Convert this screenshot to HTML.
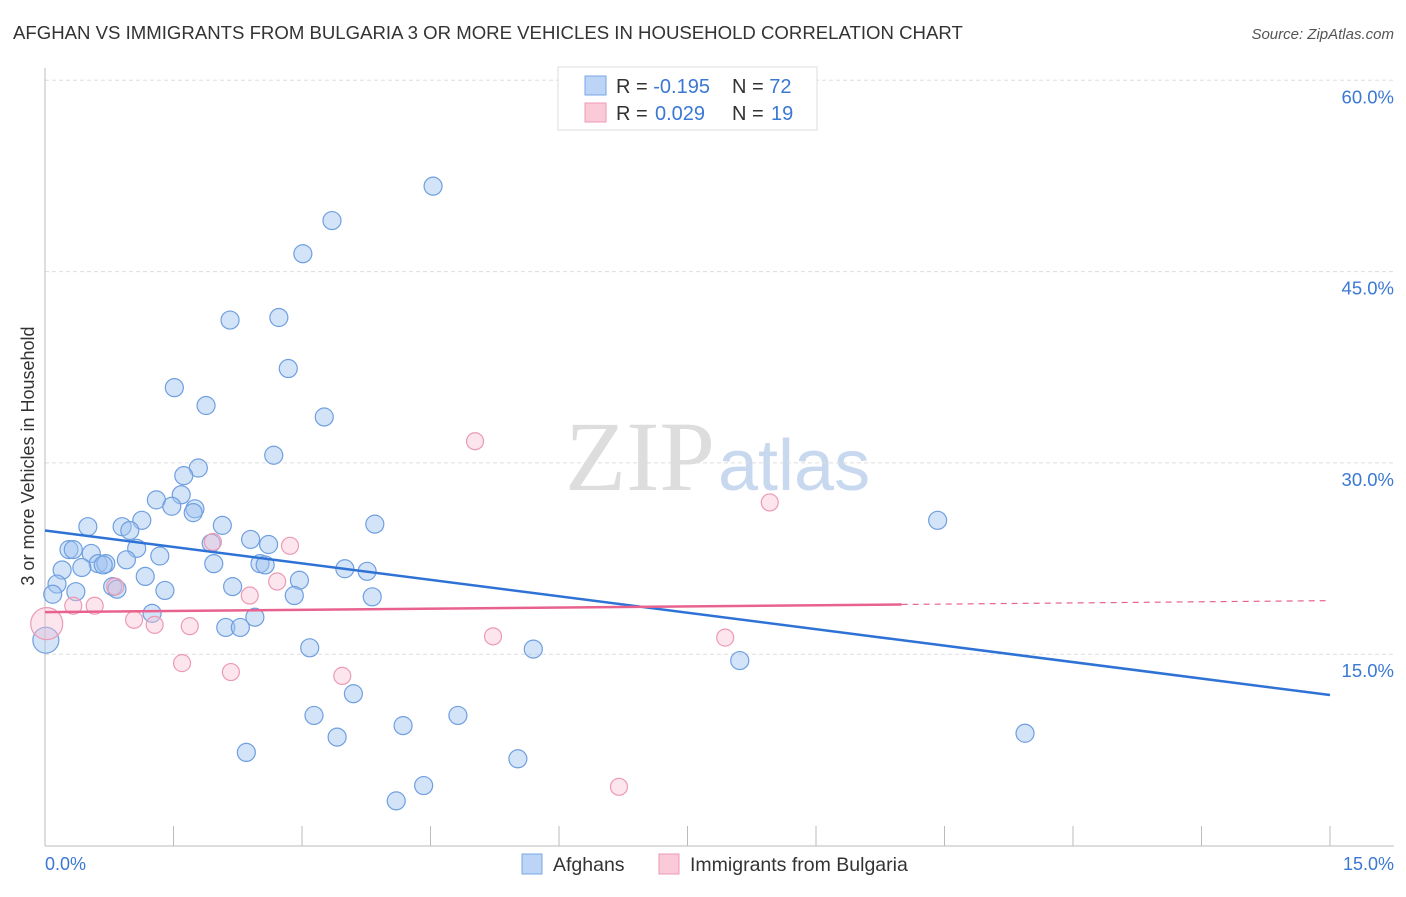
<!DOCTYPE html>
<html><head><meta charset="utf-8"><style>
body{margin:0;background:#fff;font-family:"Liberation Sans",sans-serif}
svg text{font-family:"Liberation Sans",sans-serif}
</style></head><body>
<svg id="c" width="1406" height="892" xmlns="http://www.w3.org/2000/svg">
<text x="13" y="39" font-size="18.6" fill="#333">AFGHAN VS IMMIGRANTS FROM BULGARIA 3 OR MORE VEHICLES IN HOUSEHOLD CORRELATION CHART</text>
<text x="1394" y="39" font-size="15" fill="#555" font-style="italic" text-anchor="end">Source: ZipAtlas.com</text>
<text x="715" y="490" font-size="100" style="font-family:'Liberation Serif',serif" fill="#ddd" text-anchor="end">ZIP</text>
<text x="718" y="490" font-size="72" fill="#c7d8ef">atlas</text>
<g id="grid"></g>
<line x1="45" y1="68" x2="45" y2="846" stroke="#bbb"/>
<line x1="45" y1="846" x2="1394" y2="846" stroke="#bbb"/>
<text transform="translate(34,456) rotate(-90)" font-size="18" fill="#333" text-anchor="middle">3 or more Vehicles in Household</text>
<text x="45" y="870" font-size="18" fill="#3a78d4">0.0%</text>
<text x="1394" y="870" font-size="18" fill="#3a78d4" text-anchor="end">15.0%</text>
<g id="pts"></g>
<g id="lines"></g>
<g>
<rect x="558" y="67" width="259" height="63" fill="#fff" stroke="#ddd"/>
<rect x="585" y="76" width="21" height="19" fill="#bcd4f5" stroke="#7aa6e6"/>
<rect x="585" y="103" width="21" height="19" fill="#fbcad8" stroke="#ee9ab4"/>
<text x="616" y="93" font-size="20" fill="#333">R = <tspan fill="#3a78d4">-0.195</tspan><tspan x="732">N = </tspan><tspan fill="#3a78d4">72</tspan></text>
<text x="616" y="120" font-size="20" fill="#333">R = <tspan x="655" fill="#3a78d4">0.029</tspan><tspan x="732">N = </tspan><tspan x="771" fill="#3a78d4">19</tspan></text>
</g>
<g>
<rect x="522" y="854" width="20" height="20" fill="#bcd4f5" stroke="#7aa6e6"/>
<text x="553" y="871" font-size="19.5" fill="#333">Afghans</text>
<rect x="659" y="854" width="20" height="20" fill="#fbcad8" stroke="#ee9ab4"/>
<text x="690" y="871" font-size="19.5" fill="#333">Immigrants from Bulgaria</text>
</g>
</svg>
<script>
const yTicks=[15,30,45,60];
const xTickVals=[0,1.5,3,4.5,6,7.5,9,10.5,12,13.5,15];
const afgX=[4.53,3.35,3.01,2.16,2.73,2.84,1.51,1.88,3.26,2.67,1.79,1.62,1.59,1.30,1.48,1.75,1.73,1.13,0.90,0.50,2.07,3.85,10.42,0.99,2.40,1.94,2.61,0.28,0.33,1.07,0.54,1.34,0.95,0.62,0.71,0.68,1.97,2.51,2.57,3.50,3.76,0.43,0.20,1.17,2.97,0.14,2.19,0.79,0.84,0.36,1.40,0.09,2.91,3.82,1.25,2.45,2.11,2.28,0.01,3.09,5.70,8.11,3.60,3.14,4.82,4.18,11.44,3.41,2.35,5.52,4.42,4.10];
const afgY=[51.7,49.0,46.4,41.2,41.4,37.4,35.9,34.5,33.6,30.6,29.6,29.0,27.5,27.1,26.6,26.4,26.1,25.5,25.0,25.0,25.1,25.2,25.5,24.7,24.0,23.7,23.6,23.2,23.2,23.3,22.9,22.7,22.4,22.1,22.1,22.0,22.1,22.1,22.0,21.7,21.5,21.8,21.6,21.1,20.8,20.5,20.3,20.3,20.1,19.9,20.0,19.7,19.6,19.5,18.2,17.9,17.1,17.1,16.1,15.5,15.4,14.5,11.9,10.2,10.2,9.4,8.8,8.5,7.3,6.8,4.7,3.5];
const bulX=[5.02,8.46,2.86,1.96,2.71,0.82,2.39,0.33,0.58,1.04,1.28,1.69,0.02,5.23,7.94,1.60,2.17,3.47,6.70];
const bulY=[31.7,26.9,23.5,23.8,20.7,20.3,19.6,18.8,18.8,17.7,17.3,17.2,17.4,16.4,16.3,14.3,13.6,13.3,4.6];
const afgTrend=[24.7,11.8];
const bulTrend=[18.3,18.9,19.2];
const bulSolidEnd=10.0;
const NS='http://www.w3.org/2000/svg';
const xs=v=>45+v/15*1285;
const ys=v=>845.5-v/15*191.3;
function mk(t,a,p){const e=document.createElementNS(NS,t);for(const k in a)e.setAttribute(k,a[k]);p.appendChild(e);return e;}
const g=document.getElementById('grid');
yTicks.forEach(v=>{
 const l=mk('line',{x1:45,x2:1394,y1:ys(v),y2:ys(v),stroke:'#ddd','stroke-dasharray':'4,3'},g);
 
 
 const t=mk('text',{x:1394,y:ys(v)+23,'font-size':18.5,fill:'#3a78d4','text-anchor':'end'},g);
 t.textContent=v.toFixed(1)+'%';
 
 
});
xTickVals.forEach(v=>{
 const l=mk('line',{x1:xs(v),x2:xs(v),y1:826,y2:846,stroke:'#bbb'},g);
 
 
});
const p=document.getElementById('pts');
afgX.forEach((x,i)=>{
 const c=mk('circle',{cx:xs(x),cy:ys(afgY[i]),r:x<0.05?13:9,fill:'rgba(160,195,240,0.45)',stroke:'#6f9fe0','stroke-width':1.2},p);
 
 
});
bulX.forEach((x,i)=>{
 const c=mk('circle',{cx:xs(x),cy:ys(bulY[i]),r:x<0.05?16:8.5,fill:'rgba(250,190,210,0.4)',stroke:'#ec9ab4','stroke-width':1.2},p);
 
 
});
const L=document.getElementById('lines');
let a=mk('line',{x1:xs(0),y1:ys(afgTrend[0]),x2:xs(15),y2:ys(afgTrend[1]),stroke:'#2f72d6','stroke-width':2.5},L);


let b=mk('line',{x1:xs(0),y1:ys(bulTrend[0]),x2:xs(bulSolidEnd),y2:ys(bulTrend[1]),stroke:'#e8628e','stroke-width':2.5},L);


let d=mk('line',{x1:xs(bulSolidEnd),y1:ys(bulTrend[1]),x2:xs(15),y2:ys(bulTrend[2]),stroke:'#e8628e','stroke-width':1.2,'stroke-dasharray':'6,5'},L);


</script>
</body></html>
